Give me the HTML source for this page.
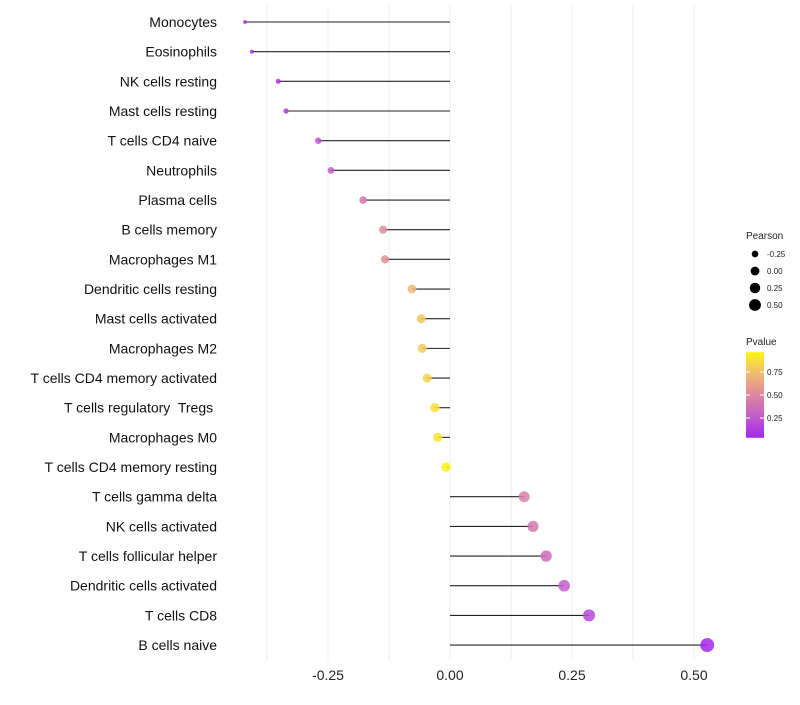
<!DOCTYPE html>
<html><head><meta charset="utf-8"><style>
body{margin:0;background:#fff;font-family:"Liberation Sans",sans-serif;}
</style></head><body>
<svg id="chart" width="800" height="700" xmlns="http://www.w3.org/2000/svg" font-family="Liberation Sans, sans-serif"></svg>
<script>
const categories=["Monocytes","Eosinophils","NK cells resting","Mast cells resting","T cells CD4 naive","Neutrophils","Plasma cells","B cells memory","Macrophages M1","Dendritic cells resting","Mast cells activated","Macrophages M2","T cells CD4 memory activated","T cells regulatory  Tregs ","Macrophages M0","T cells CD4 memory resting","T cells gamma delta","NK cells activated","T cells follicular helper","Dendritic cells activated","T cells CD8","B cells naive"];
const pearson=[-0.42,-0.406,-0.352,-0.336,-0.27,-0.244,-0.178,-0.137,-0.133,-0.078,-0.059,-0.057,-0.047,-0.031,-0.025,-0.008,0.152,0.170,0.197,0.234,0.285,0.527];
const pvalue=[0.03,0.04,0.1,0.12,0.22,0.27,0.42,0.53,0.55,0.72,0.79,0.8,0.83,0.88,0.9,0.96,0.46,0.42,0.35,0.27,0.17,0.02];
const xTicks=[-0.25,0,0.25,0.5];
const xTickLabels=["-0.25","0.00","0.25","0.50"];
const sizeLegend=[-0.25,0,0.25,0.5];
const pTicks=[0.25,0.5,0.75];

const NS="http://www.w3.org/2000/svg";
const svg=document.getElementById('chart');
function mk(t,a){const e=document.createElementNS(NS,t);for(const k in a)e.setAttribute(k,a[k]);svg.appendChild(e);return e;}
const x=v=>450+v*488;
const y=i=>22+i*29.67;
const rad=p=>Math.sqrt(Math.max(3.5,23+47*p));
const stops=[[0,[160,32,240]],[0.25,[192,90,205]],[0.5,[221,135,160]],[0.75,[242,190,112]],[1,[255,255,0]]];
function col(p){for(let i=0;i<stops.length-1;i++){const[a,ca]=stops[i],[b,cb]=stops[i+1];if(p<=b){const t=(p-a)/(b-a);return 'rgb('+ca.map((c,j)=>Math.round(c+(cb[j]-c)*t)).join(',')+')';}}return 'rgb(255,255,0)';}

[-0.375,-0.125,0.125,0.375].forEach(v=>{const g=mk('line',{x1:x(v),x2:x(v),y1:5,y2:660,stroke:'#eeeeee','stroke-width':1});

});
xTicks.forEach((v,i)=>{const g=mk('line',{x1:x(v),x2:x(v),y1:5,y2:660,stroke:'#f2f2f2','stroke-width':1});


const t=mk('text',{x:x(v),y:680,'text-anchor':'middle','font-size':14,fill:'#222'});t.textContent=xTickLabels[i];

});

categories.forEach((c,i)=>{
const t=mk('text',{x:217,y:y(i)+5,'text-anchor':'end','font-size':14,fill:'#111'});t.textContent=c;


t.setAttribute('xml:space','preserve');
t.style.whiteSpace='pre';
const l=mk('line',{x1:x(0),x2:x(pearson[i]),y1:y(i),y2:y(i),stroke:'#222','stroke-width':1.1});


const d=mk('circle',{cx:x(pearson[i]),cy:y(i),r:rad(pearson[i]),fill:col(pvalue[i]),'fill-opacity':0.85});


});

let tt=mk('text',{x:746,y:239,'font-size':10,fill:'#222'});tt.textContent='Pearson';


sizeLegend.forEach((p,i)=>{const cy=254+i*17;
const c=mk('circle',{cx:755,cy:cy,r:rad(p)*0.75+0.8,fill:'#000'});


const t=mk('text',{x:767,y:cy+3,'font-size':8,fill:'#222'});t.textContent=p.toFixed(2);

});

tt=mk('text',{x:746,y:345,'font-size':10,fill:'#222'});tt.textContent='Pvalue';


const defs=mk('defs',{});
const lg=document.createElementNS(NS,'linearGradient');lg.setAttribute('id','pg');lg.setAttribute('x1',0);lg.setAttribute('x2',0);lg.setAttribute('y1',1);lg.setAttribute('y2',0);defs.appendChild(lg);
const yb=p=>441-p*92;
const lo=0.035,hi=0.965;
for(let k=0;k<=10;k++){const p=lo+(hi-lo)*k/10;const s=document.createElementNS(NS,'stop');s.setAttribute('offset',k/10);s.setAttribute('stop-color',col(p));lg.appendChild(s);}
const bar=mk('rect',{x:746,y:yb(hi),width:18,height:yb(lo)-yb(hi),fill:'url(#pg)'});


pTicks.forEach(p=>{mk('line',{x1:746,x2:750,y1:yb(p),y2:yb(p),stroke:'#fff'});mk('line',{x1:760,x2:764,y1:yb(p),y2:yb(p),stroke:'#fff'});
const t=mk('text',{x:767,y:yb(p)+3,'font-size':8,fill:'#222'});t.textContent=p.toFixed(2);

});
</script>
</body></html>
